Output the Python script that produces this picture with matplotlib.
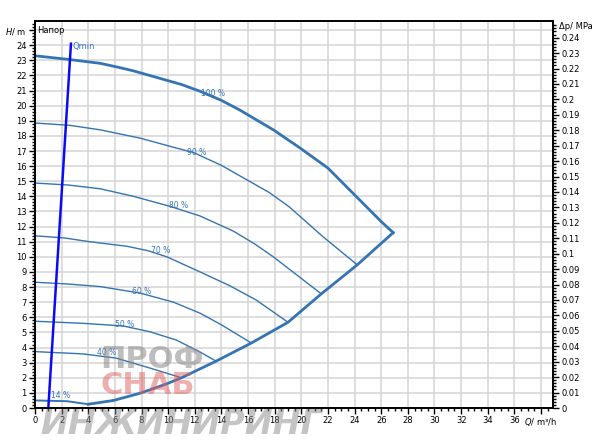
import numpy as np
import matplotlib.pyplot as plt

# pump curves (Q in m3/h, H in m)
q100 = [0, 2.6, 4.9, 6.2, 7.4, 8.6, 9.4, 11.0, 12.4, 14.0, 15.4, 17.9, 19.9, 22.0, 24.0, 26.0, 26.9]
h100 = [23.3, 23.05, 22.8, 22.55, 22.3, 22.0, 21.8, 21.4, 20.95, 20.35, 19.7, 18.4, 17.2, 15.87, 14.1, 12.33, 11.6]

q90 = [0, 2.6, 4.9, 7.9, 10.6, 11.9, 14.0, 15.9, 17.6, 19.1, 21.6, 24.2]
h90 = [18.85, 18.7, 18.4, 17.85, 17.2, 16.9, 16.05, 15.1, 14.25, 13.3, 11.35, 9.47]

q80 = [0, 2.5, 4.9, 7.4, 10.1, 12.4, 14.9, 16.5, 17.9, 20.1, 21.5]
h80 = [14.88, 14.75, 14.5, 14.0, 13.35, 12.7, 11.7, 10.85, 10.0, 8.5, 7.55]

q70 = [0, 2.2, 4.1, 6.9, 8.5, 9.9, 12.4, 14.6, 16.6, 19.0]
h70 = [11.39, 11.25, 11.0, 10.7, 10.4, 10.0, 9.0, 8.1, 7.15, 5.67]

q60 = [0, 2.5, 4.9, 7.9, 10.4, 12.4, 14.0, 16.25]
h60 = [8.32, 8.2, 8.03, 7.6, 7.0, 6.27, 5.5, 4.3]

q50 = [0, 3.6, 6.6, 8.6, 10.6, 12.4, 13.6]
h50 = [5.74, 5.6, 5.43, 5.05, 4.5, 3.7, 3.1]

q40 = [0, 3.6, 6.1, 8.6, 11.0]
h40 = [3.73, 3.58, 3.3, 2.65, 2.0]

q14 = [0, 2.4, 4.0]
h14 = [0.5, 0.45, 0.25]

# lower limit curve
qlow = [4.0, 5.9, 7.9, 9.9, 11.0, 13.6, 16.25, 19.0, 21.5, 24.2, 26.9]
hlow = [0.25, 0.5, 0.98, 1.6, 2.0, 3.1, 4.3, 5.67, 7.55, 9.47, 11.6]

# Qmin line
qmin_q = [1.0, 2.7]
qmin_h = [0, 24.1]

speed_labels = ["100 %", "90 %", "80 %", "70 %", "60 %", "50 %", "40 %", "14 %"]
label_q = [13.4, 12.1, 10.75, 9.4, 8.0, 6.75, 5.4, 1.9]
label_h = [20.8, 16.9, 13.4, 10.4, 7.7, 5.5, 3.66, 0.8]

col = '#3574b2'
fs = 6

fig = plt.figure(figsize=(6, 4.45), dpi=100)
ax = fig.add_axes([35/600, 37/445, 518/600, 387/445])

ax.set_xlim(0, 38.9)
ax.set_ylim(0, 25.6)

# grid
ax.set_xticks(np.arange(0, 39, 2))
ax.set_yticks(np.arange(0, 26, 1))
ax.grid(True, color='#d4d4d4', lw=1.1)
ax.set_axisbelow(True)

curves = [(q90, h90), (q80, h80), (q70, h70), (q60, h60), (q50, h50), (q40, h40)]
for q, h in curves:
    ax.plot(q, h, color=col, lw=1.0)
ax.plot(q14, h14, color=col, lw=1.4)
ax.plot(q100, h100, color=col, lw=2.0)
ax.plot(qlow, hlow, color=col, lw=2.0)
ax.plot([q100[-1], qlow[-1]], [h100[-1], hlow[-1]], color=col, lw=2.0)
ax.plot(qmin_q, qmin_h, color='#0a0af5', lw=1.8)

for s, x, y in zip(speed_labels, label_q, label_h):
    ax.text(x, y, s, color=col, fontsize=5.5, ha='center', va='center')

ax.text(2.8, 23.9, 'Qmin', color='#3c78c8', fontsize=fs, ha='left', va='center')
ax.text(0.15, 24.95, 'Напор', color='black', fontsize=fs, ha='left', va='center')

# ticks
xlabels = [str(v) for v in range(0, 38, 2)] + ['$Q$/ m³/h']
ax.set_xticklabels(xlabels)
ylabels = [str(v) for v in range(0, 25)] + ['$H$/ m']
ax.set_yticklabels(ylabels)
ax.set_xticks(np.arange(0, 38.9, 0.5), minor=True)
ax.set_yticks(np.arange(0, 25.6, 0.2), minor=True)
ax.tick_params(which='major', length=4, width=1, labelsize=fs, pad=2)
ax.tick_params(which='minor', length=2.5, width=1)

ax2 = ax.twinx()
ax2.set_ylim(0, 0.2508)
rt = np.round(np.arange(0, 0.245, 0.01), 2)
ax2.set_yticks(rt)
ax2.set_yticklabels([f'{v:g}' for v in rt])
ax2.set_yticks(np.arange(0, 0.25, 0.002), minor=True)
ax2.tick_params(which='major', length=4, width=1, labelsize=fs, pad=2)
ax2.tick_params(which='minor', length=2.5, width=1)
ax2.text(1.012, 0.985, 'Δp/ MPa', transform=ax2.transAxes, fontsize=fs, ha='left', va='center')

for a in (ax, ax2):
    for sp in a.spines.values():
        sp.set_color('black')
        sp.set_linewidth(1.2)

# watermark
fig.text(100/600, 1 - 360/445, 'ПРОФ', fontsize=22, color='#8a8a8a', alpha=0.55,
         ha='left', va='center', fontweight='bold')
fig.text(100/600, 1 - 386/445, 'СНАБ', fontsize=22, color='#e06060', alpha=0.5,
         ha='left', va='center', fontweight='bold')
fig.text(40/600, 1 - 424/445, 'ИНЖИНИРИНГ', fontsize=24, color='#8a8a8a', alpha=0.5,
         ha='left', va='center', fontweight='bold', style='italic')

fig.savefig('out.png', dpi=100)
